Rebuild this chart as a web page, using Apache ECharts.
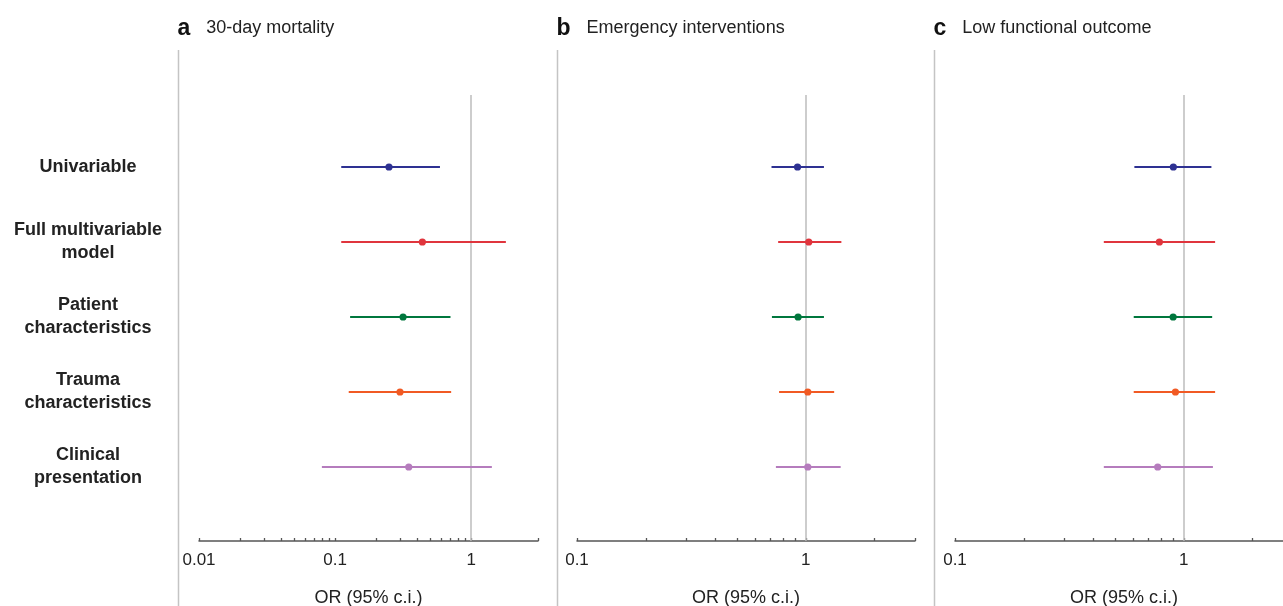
<!DOCTYPE html>
<html><head><meta charset="utf-8">
<script src="https://cdn.jsdelivr.net/npm/echarts@6/dist/echarts.min.js"></script>
<style>html,body{margin:0;padding:0;background:#fff}#c{width:1283px;height:606px}</style>
</head><body><div id="c"></div>
<script>
// ---- data ----
const rowLabels = ['Univariable', 'Full multivariable\nmodel', 'Patient\ncharacteristics', 'Trauma\ncharacteristics', 'Clinical\npresentation'];
const rowIndex = [0, 1, 2, 3, 4];

const panelTitles = ['30-day mortality', 'Emergency interventions', 'Low functional outcome'];
const panelLetters = ['a', 'b', 'c'];
const axisName = 'OR (95% c.i.)';

const mortalityOR   = [0.249, 0.438, 0.316, 0.300, 0.348];
const mortalityLow  = [0.111, 0.111, 0.129, 0.126, 0.080];
const mortalityHigh = [0.59, 1.80, 0.705, 0.713, 1.42];

const interventionsOR   = [0.92, 1.03, 0.925, 1.02, 1.02];
const interventionsLow  = [0.708, 0.757, 0.711, 0.764, 0.740];
const interventionsHigh = [1.20, 1.43, 1.20, 1.33, 1.42];

const functionalOR   = [0.90, 0.782, 0.898, 0.919, 0.769];
const functionalLow  = [0.608, 0.447, 0.604, 0.604, 0.447];
const functionalHigh = [1.32, 1.37, 1.33, 1.37, 1.34];

const referenceOR = 1;

const axisRangeA = [0.01, 3.1];
const axisRangeB = [0.1, 3];
const axisRangeC = [0.1, 3];
const tickLabelsA = [0.01, 0.1, 1];
const tickLabelsBC = [0.1, 1];
const tickMarksA = [0.01, 0.02, 0.03, 0.04, 0.05, 0.06, 0.07, 0.08, 0.09,
                    0.1, 0.2, 0.3, 0.4, 0.5, 0.6, 0.7, 0.8, 0.9, 1, 3.1];
const tickMarksBC = [0.1, 0.2, 0.3, 0.4, 0.5, 0.6, 0.7, 0.8, 0.9, 1, 2, 3];

// ---- styling ----
const rowColors = ['#2e3192', '#e0353d', '#00773d', '#f15a24', '#b57cbd'];
const FONT = '"Liberation Sans", Arial, Helvetica, sans-serif';
const gridLefts = [199, 577, 955];
const gridWidths = [339, 338, 338];
const sepX = [178.5, 557.5, 934.5];

const panels = [
  {or: mortalityOR, lo: mortalityLow, hi: mortalityHigh, range: axisRangeA, labels: tickLabelsA, ticks: tickMarksA},
  {or: interventionsOR, lo: interventionsLow, hi: interventionsHigh, range: axisRangeB, labels: tickLabelsBC, ticks: tickMarksBC},
  {or: functionalOR, lo: functionalLow, hi: functionalHigh, range: axisRangeC, labels: tickLabelsBC, ticks: tickMarksBC}
];

const chart = echarts.init(document.getElementById('c'), null, {renderer: 'canvas'});

const grid = [], xAxis = [], yAxis = [], series = [], title = [];
panels.forEach((p, i) => {
  grid.push({left: gridLefts[i], width: gridWidths[i], top: 95, height: 446,
             containLabel: false, outerBoundsMode: 'none'});
  xAxis.push({
    type: 'log', gridIndex: i, min: p.range[0], max: p.range[1], logBase: 10,
    position: 'bottom',
    axisLine: {show: true, onZero: false, lineStyle: {color: '#555', width: 1.5}},
    axisTick: {show: true, inside: true, length: 3, customValues: p.ticks, lineStyle: {color: '#555', width: 1.3}},
    minorTick: {show: false},
    splitLine: {show: false},
    axisLabel: {show: true, customValues: p.labels, margin: 11, color: '#222', fontSize: 17, fontFamily: FONT,
      formatter: v => String(v)},
    name: axisName, nameLocation: 'middle', nameGap: 48,
    nameTextStyle: {color: '#222', fontSize: 18, fontFamily: FONT}
  });
  yAxis.push({
    type: 'value', gridIndex: i, inverse: true, min: -0.96, max: 4.987,
    axisLine: {show: false}, axisTick: {show: false}, splitLine: {show: false},
    axisLabel: i === 0 ? {
      show: true, customValues: rowIndex, formatter: v => rowLabels[v],
      align: 'center', margin: 111, color: '#222', fontSize: 18, fontWeight: 'bold',
      fontFamily: FONT, lineHeight: 23
    } : {show: false}
  });
  series.push({
    type: 'custom', xAxisIndex: i, yAxisIndex: i, z: 3,
    encode: {x: [0, 2, 3], y: 1},
    data: rowIndex.map(r => [p.or[r], r, p.lo[r], p.hi[r]]),
    renderItem: (params, api) => {
      const y = api.value(1);
      const c = api.coord([api.value(0), y]);
      const a = api.coord([api.value(2), y]);
      const b = api.coord([api.value(3), y]);
      const col = rowColors[params.dataIndex];
      return {type: 'group', children: [
        {type: 'line', shape: {x1: a[0], y1: a[1], x2: b[0], y2: b[1]}, style: {stroke: col, lineWidth: 2}},
        {type: 'circle', shape: {cx: c[0], cy: c[1], r: 3.6}, style: {fill: col}}
      ]};
    },
    markLine: {
      silent: true, symbol: 'none', z: 1, animation: false,
      label: {show: false},
      lineStyle: {color: '#bcbcbc', width: 1.5, type: 'solid'},
      data: [{xAxis: referenceOR}]
    }
  });
  title.push({
    left: sepX[i] - 1, top: 17, padding: 0,
    text: '{l|' + panelLetters[i] + '}{t|' + panelTitles[i] + '}',
    textStyle: {fontWeight: 'normal', rich: {
      l: {fontSize: 23, fontWeight: 'bold', color: '#111', fontFamily: FONT, padding: [0, 16, 0, 0]},
      t: {fontSize: 18, fontWeight: 'normal', color: '#222', fontFamily: FONT}
    }}
  });
});

chart.setOption({
  animation: false,
  backgroundColor: '#fff',
  title, grid, xAxis, yAxis, series,
  graphic: sepX.map(x => ({
    type: 'line', silent: true, z: 0,
    shape: {x1: x, y1: 50, x2: x, y2: 606},
    style: {stroke: '#c4c4c4', lineWidth: 1.5}
  }))
});
</script>
</body></html>
